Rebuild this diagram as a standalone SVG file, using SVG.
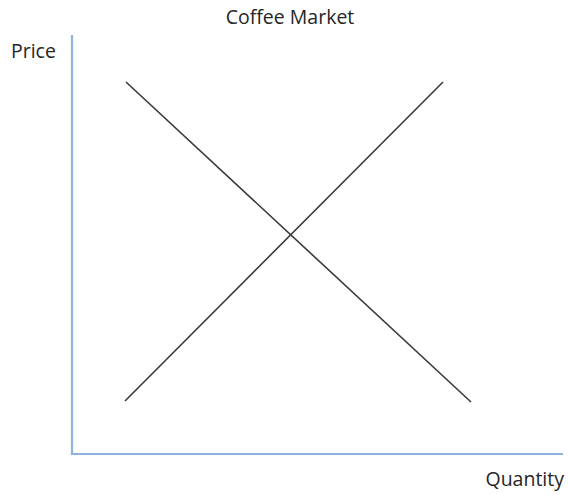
<svg xmlns="http://www.w3.org/2000/svg" width="568" height="495" viewBox="0 0 568 495">
<style>
text{font-family:"Open Sans","Liberation Sans",sans-serif;font-size:19.5px;fill:#262626}
.axis{stroke:#8db3e2;stroke-width:2.2;fill:none}
.curve{stroke:#3a3a3a;stroke-width:1.6;fill:none}
</style>
<rect width="568" height="495" fill="#fff"/>
<text x="290" y="24" text-anchor="middle">Coffee Market</text>
<text x="11" y="58">Price</text>
<text x="564" y="486" text-anchor="end">Quantity</text>
<g id="axes">
<path class="axis" d="M72,35 V454 H563"/>
</g>
<g id="connectors">
<line id="demand" class="curve" x1="126" y1="82" x2="471" y2="402"/>
<line id="supply" class="curve" x1="125" y1="401" x2="443" y2="82"/>
</g>
</svg>
